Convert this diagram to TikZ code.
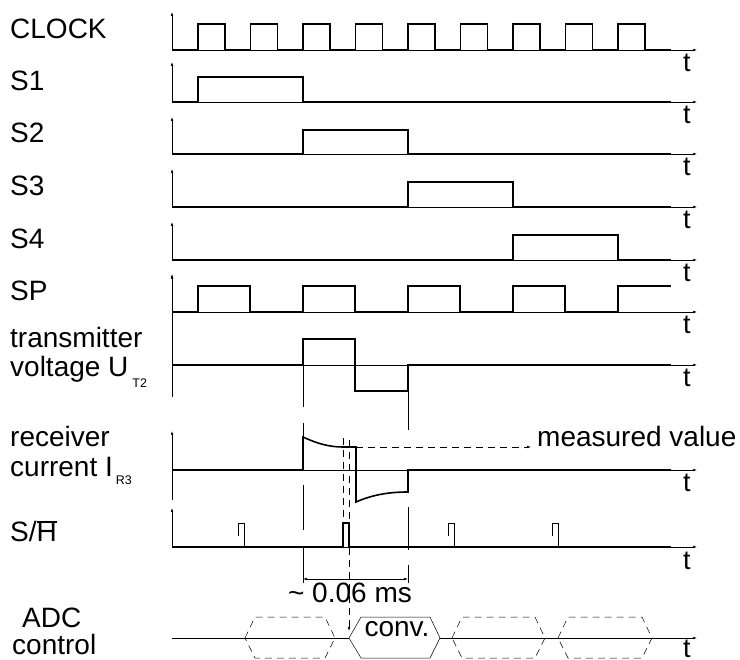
\documentclass[tikz,border=0pt]{standalone}
\usepackage{fontspec}
\setmainfont{Liberation Sans}
\usetikzlibrary{arrows.meta}
\tikzset{
  axis/.style={line width=0.5pt, -{Latex[length=4pt,width=2.6pt]}},
  sig/.style={line width=1.6pt, line join=miter},
  guide/.style={line width=0.5pt},
  dsh/.style={line width=0.6pt, dash pattern=on 7pt off 5pt},
  lbl/.style={anchor=base west, inner sep=0pt, font=\fontsize{28}{28}\selectfont},
  tlbl/.style={anchor=base west, inner sep=0pt, font=\fontsize{27}{27}\selectfont},
}
\newcommand{\lowsub}[2]{\raisebox{-#1}{\fontsize{12.5}{12.5}\selectfont #2}}

\begin{document}
\begin{tikzpicture}[x=1pt,y=-1pt]
	\useasboundingbox (0,0) rectangle (740,660);
	% row labels
	\node[lbl] (clk) at (10,39) {CLOCK};
	\node[lbl] (s1) at (10,91) {S1};
	\node[lbl] (s2) at (10,143) {S2};
	\node[lbl] (s3) at (10,196) {S3};
	\node[lbl] (s4) at (10,249) {S4};
	\node[lbl] (sp) at (10,301) {SP};
	\node[lbl] (tx1) at (10,348) {transmitter};
	\node[lbl] (tx2) at (10,377) {voltage U\hspace{4pt}\lowsub{11pt}{T2}};
	\node[lbl] (rx1) at (10,447) {receiver};
	\node[lbl] (rx2) at (10,477) {current I\hspace{3pt}\lowsub{8pt}{R3}};
	\node[lbl] (sh) at (10,542) {S/\makebox[0pt][l]{\rule[19.3pt]{0.72em}{1.4pt}}H};
	\node[lbl] (adc1) at (22,627) {ADC};
	\node[lbl] (adc2) at (12,654) {control};
	% axes
	\foreach \lo/\hi in {50/12,102/62,154/117,207/169,260/222,312/274,397/275,500/431,547/508}
		\draw[axis] (172,\lo) -- (172,\hi);
	\foreach \b [count=\i] in {50,102,154,207,260,312,365,470,547} {
		\draw[axis] (172,\b) -- (697,\b);
		\node[tlbl] (t\i) at (683,{\b+22}) {t};
	}
	\draw[guide] (172,638) -- (349,638);
	\draw[axis] (440,638) -- (697,638);
	\node[tlbl] (t10) at (683,657) {t};
	% clock, S1..S4, SP
	\draw[sig] (172,50) \foreach \k in {0,...,8} { -| ({198+52.5*\k},24) -| ({225+52.5*\k},50) } -- (671,50);
	\draw[sig] (172,102) -| (198,77) -| (303,102) -- (671,102);
	\draw[sig] (172,154) -| (303,130) -| (408,154) -- (671,154);
	\draw[sig] (172,207) -| (408,182) -| (513,207) -- (671,207);
	\draw[sig] (172,260) -| (513,235) -| (618,260) -- (671,260);
	\draw[sig] (172,312) \foreach \k in {0,...,3} { -| ({198+105*\k},286) -| ({250+105*\k},312) } -| (618,286) -- (671,286);
	% transmitter voltage
	\draw[sig] (172,365) -| (303,339) -| (355,391) -| (408,365) -- (671,365);
	% receiver current
	\draw[sig] (172,470) -| (303,437) .. controls (318,444) and (330,447) .. (343,447) -- (356,447)
		-- (356,502) .. controls (372,495) and (388,492) .. (408,492) -- (408,470) -- (671,470);
	% S/H
	\draw[sig] (172,547) -| (343,523) -| (349,547) -- (671,547);
	\foreach \x in {238,448,552}
		\draw[guide] (\x,536) |- ({\x+6},523) -- ({\x+6},547);
	% guide lines
	\draw[guide] (303,365) -- (303,407) (303,423) -- (303,437) (303,485) -- (303,530) (303,547) -- (303,583);
	\draw[guide] (408,391) -- (408,430) (408,507) -- (408,550) (408,565) -- (408,583);
	\draw[guide, {Latex[length=4pt,width=2.6pt]}-{Latex[length=4pt,width=2.6pt]}] (303,579) -- (408,579);
	\node[lbl, anchor=base] (dt) at (350,602) {\textasciitilde{} 0.06 ms};
	% sampling
	\draw[dsh] (343,438) -- (343,523);
	\draw[dsh, -{Latex[length=4pt,width=2.6pt]}] (349,440) -- (349,631);
	\draw[dsh, -{Latex[length=4pt,width=2.6pt]}] (356,447) -- (531,447);
	\node[lbl] (mv) at (537,447) {measured value};
	% ADC control
	\foreach \a/\b in {245/335,452/545,558/652}
		\draw[guide, dash pattern=on 7pt off 5pt] (\a,638) -- ({\a+10},617) -- ({\b-10},617) -- (\b,638) -- ({\b-10},658) -- ({\a+10},658) -- cycle;
	\draw[guide] (349,638) -- (361,617) -- (430,617) -- (440,638) -- (430,658) -- (361,658) -- cycle;
	\node[lbl, anchor=base] (conv) at (397,637) {conv.};
\end{tikzpicture}
\end{document}
